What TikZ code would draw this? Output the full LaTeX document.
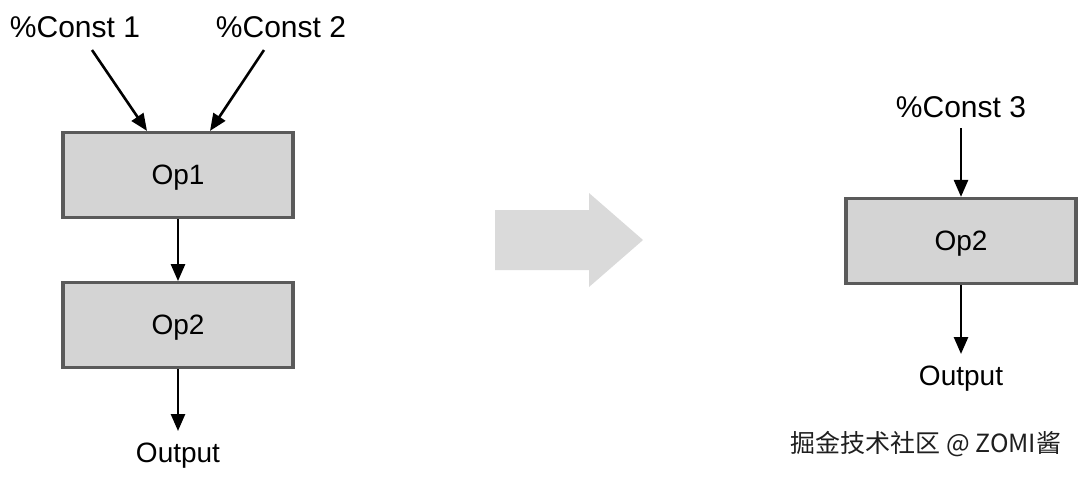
\documentclass[tikz,border=0pt]{standalone}
\usepackage{fontspec}
\setmainfont{Liberation Sans}
\newfontfamily\cjk{Noto Sans CJK SC}
\usetikzlibrary{arrows.meta,positioning}

\definecolor{opfill}{HTML}{D4D4D4}
\definecolor{opline}{HTML}{5A5A5A}
\definecolor{bigarrow}{HTML}{DADADA}

\begin{document}
\begin{tikzpicture}[x=0.5pt,y=-0.5pt,
    op/.style={draw=opline, fill=opfill, line width=1.6pt, minimum width=115pt,
               minimum height=42.5pt, inner sep=0pt, text depth=0pt,
               font=\fontsize{14}{17}\selectfont},
    const/.style={inner sep=0pt, font=\fontsize{15}{18}\selectfont},
    result/.style={inner sep=0pt, font=\fontsize{14}{17}\selectfont},
    flow/.style={-{Triangle[length=8.5pt,width=7pt]}, line width=1.3pt},
    node distance=31pt]
  \useasboundingbox (0,0) rectangle (1080,478);

  % before folding
  \node[const] (c1) at (75,27)  {\%Const 1};
  \node[const] (c2) at (281,27) {\%Const 2};
  \node[op]    (op1) at (178,175)        {Op1};
  \node[op]    (op2) [below=of op1]      {Op2};
  \node[result] (out1) at (178,456)      {Output};

  \coordinate (c1s) at (92,50);
  \coordinate (c2s) at (264,50);
  \draw[flow] (c1s) -- (op1.north -| 147,0);
  \draw[flow] (c2s) -- (op1.north -| 210,0);
  \draw[flow] (op1) -- (op2);
  \draw[flow] (op2) -- (out1.north |- 0,431);

  % big arrow
  \fill[bigarrow] (495,210) -- (589,210) -- (589,193) -- (643,240)
                  -- (589,287) -- (589,270) -- (495,270) -- cycle;

  % after folding
  \node[const] (c3) at (961,107)  {\%Const 3};
  \node[op]    (op3) at (961,241) {Op2};
  \node[result] (out2) at (961,379) {Output};

  \draw[flow] (c3.south |- 0,128) -- (op3);
  \draw[flow] (op3) -- (out2.north |- 0,354);

  % watermark
  \node[text=black!88, inner sep=0pt, font=\cjk\fontsize{12.5}{15}\selectfont] (wm) at (926,444)
    {掘金技术社区 @ ZOMI酱};
\end{tikzpicture}
\end{document}
